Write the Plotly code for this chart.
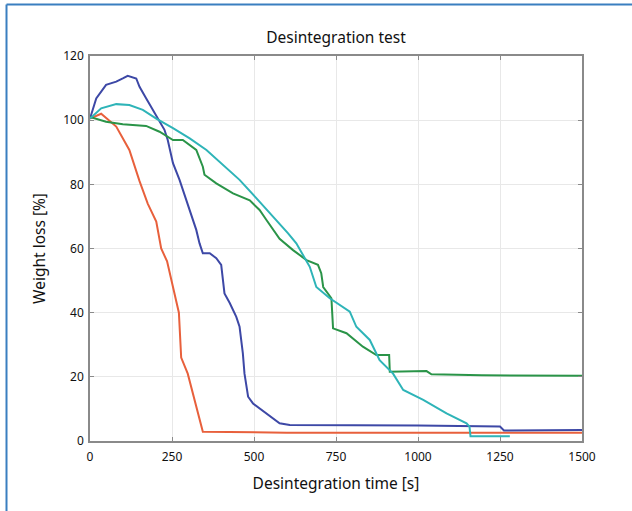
import plotly.graph_objects as go

# Red series
red_x = [0, 34, 80, 120, 151, 176, 202, 217, 235, 248, 263, 271, 278, 298, 344, 600, 1000, 1500]
red_y = [100.5, 102, 98, 90.7, 81, 74, 68.4, 60, 56, 50, 44, 40, 26, 21, 2.9, 2.6, 2.6, 2.6]

# Blue series
blue_x = [0, 19, 49, 80, 100, 115, 141, 151, 171, 202, 227, 237, 253, 273, 294, 309, 324, 334, 344, 365, 385, 400, 405, 410, 426, 446, 456, 466, 471, 482, 497, 538, 578, 609, 800, 1000, 1250, 1262, 1500]
blue_y = [100.5, 106.8, 111, 112, 113, 113.8, 113, 110.4, 106.8, 101.6, 97, 93.8, 86.6, 81.4, 75, 71, 65.8, 61.6, 58.5, 58.5, 57, 54.9, 51.2, 46, 43, 38.7, 35.6, 27.3, 21, 13.8, 11.7, 8.6, 5.5, 5, 5, 4.8, 4.5, 3.3, 3.4]

# Cyan series
cyan_x = [0, 34, 80, 120, 161, 202, 253, 304, 355, 405, 456, 507, 558, 604, 629, 670, 690, 731, 792, 812, 853, 883, 924, 955, 1016, 1087, 1148, 1157, 1160, 1280]
cyan_y = [100.5, 103.7, 105, 104.7, 103.2, 100.5, 97.5, 94.3, 90.7, 86, 81.4, 75.7, 70, 64.7, 61.6, 54.3, 48, 44.5, 40.3, 35.6, 31.5, 25.2, 21, 15.9, 12.8, 8.6, 5.5, 4.5, 1.5, 1.5]

# Green series
green_x = [0, 49, 100, 171, 212, 253, 283, 324, 344, 349, 385, 436, 487, 517, 538, 578, 619, 660, 695, 705, 711, 736, 741, 782, 832, 873, 912, 914, 1026, 1041, 1195, 1500]
green_y = [101, 99.5, 98.7, 98.2, 96.4, 93.8, 93.8, 90.7, 85.5, 83, 80.3, 77.2, 75, 72, 68.9, 63, 59.5, 56.4, 54.9, 52.3, 48, 44.5, 35.1, 33.6, 29.4, 26.8, 26.8, 21.6, 21.8, 20.8, 20.5, 20.3]

x_ticks = [0, 250, 500, 750, 1000, 1250, 1500]
y_ticks = [0, 20, 40, 60, 80, 100, 120]

W, H = 632, 511
L, R, T, B = 90, 50, 56, 70

fig = go.Figure()
for xs, ys, col in [(red_x, red_y, "#e8603c"), (blue_x, blue_y, "#3d48a6"),
                    (green_x, green_y, "#2a9448"), (cyan_x, cyan_y, "#2eb4b8")]:
    fig.add_trace(go.Scatter(x=xs, y=ys, mode="lines", line=dict(color=col, width=2),
                             showlegend=False, hoverinfo="skip"))

pw = W - L - R
ph = H - T - B
def px2paper_x(px):
    return (px - L) / pw
def py2paper_y(py):
    return (H - B - py) / ph

frame_col = "#3a7fc0"
fig.add_shape(type="line", xref="paper", yref="paper",
              x0=px2paper_x(6.5), x1=px2paper_x(640), y0=py2paper_y(4.5), y1=py2paper_y(4.5),
              line=dict(color=frame_col, width=2))
fig.add_shape(type="line", xref="paper", yref="paper",
              x0=px2paper_x(6.5), x1=px2paper_x(6.5), y0=py2paper_y(4.5), y1=py2paper_y(520),
              line=dict(color=frame_col, width=2))

axis_common = dict(showline=True, linecolor="#8a8a8a", linewidth=1.5, mirror="ticks",
                   ticks="inside", ticklen=4, tickcolor="#8a8a8a",
                   showgrid=True, gridcolor="#e8e8e8", gridwidth=1, zeroline=False,
                   tickfont=dict(size=12, color="#111111"))

fig.update_layout(
    width=W, height=H,
    margin=dict(l=L, r=R, t=T, b=B),
    paper_bgcolor="white", plot_bgcolor="white",
    font=dict(family="Noto Sans", color="#111111"),
    title=dict(text="Desintegration test", x=(L + pw / 2) / W, xanchor="center",
               y=1 - 38 / H, yanchor="middle", font=dict(size=15.5, color="#111111")),
    xaxis=dict(range=[0, 1500], tickvals=x_ticks, ticktext=[str(v) for v in x_ticks],
               ticklabelstandoff=4,
               title=dict(text="Desintegration time [s]", font=dict(size=15.5), standoff=14),
               **axis_common),
    yaxis=dict(range=[0, 120], tickvals=y_ticks, ticktext=[str(v) for v in y_ticks],
               ticklabelstandoff=2,
               title=dict(text="Weight loss [%]", font=dict(size=15.5), standoff=14),
               **axis_common),
)

fig.write_html("out.html", config={"displayModeBar": False},
               post_script="document.body.style.margin='0';")
